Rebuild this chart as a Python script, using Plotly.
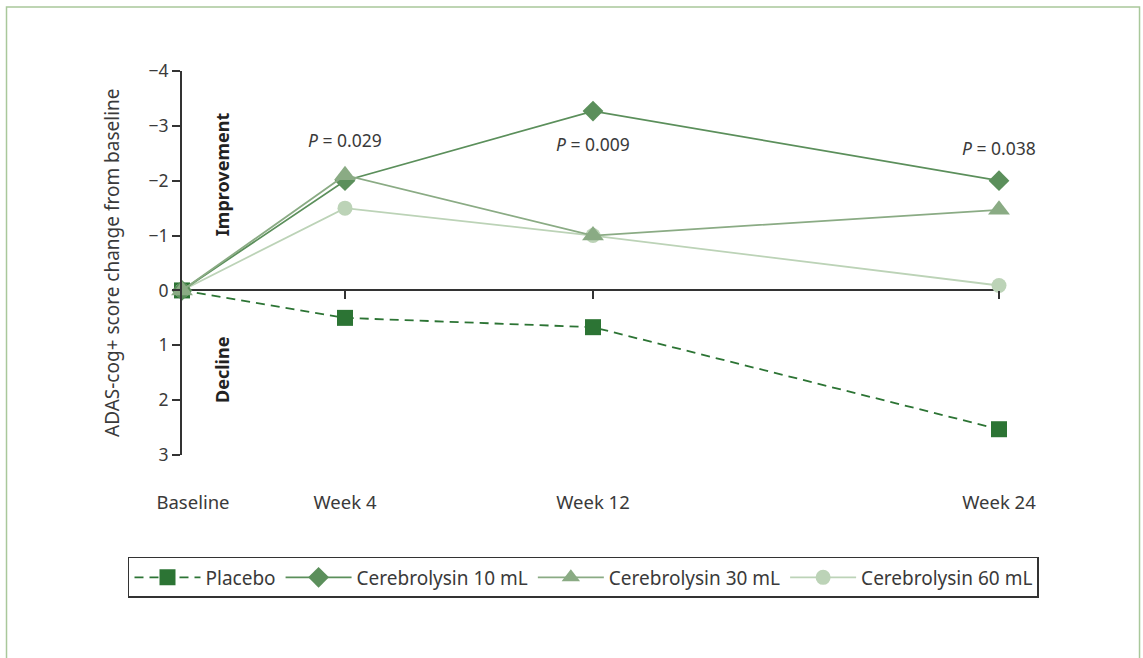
import plotly.graph_objects as go

# ---- data ----
timepoints = ["Baseline", "Week 4", "Week 12", "Week 24"]
placebo = [0.0, 0.5, 0.67, 2.53]
cereb_10 = [0.0, -2.0, -3.27, -2.0]
cereb_30 = [0.0, -2.1, -1.0, -1.47]
cereb_60 = [0.0, -1.5, -1.0, -0.09]
p_labels = ["P = 0.029", "P = 0.009", "P = 0.038"]
p_y = [-2.75, -2.67, -2.6]
y_ticks = [-4, -3, -2, -1, 0, 1, 2, 3]

# category spacing along x (layout, not data)
x_slot = [0, 163, 411, 817]
label_slot = [11, 163, 411, 817]

FONT = "Noto Sans"
TXT = "#3a3a3a"
AX = "#333333"

c_pl = "#2c7434"
c_10 = "#5b8f5b"
c_30 = "#8aab84"
c_60 = "#bcd3b7"

fig = go.Figure()

fig.add_trace(go.Scatter(
    x=x_slot, y=placebo, name="Placebo", mode="lines+markers",
    line=dict(color=c_pl, width=1.8, dash="9px,6px"),
    marker=dict(symbol="square", size=16, color=c_pl),
    cliponaxis=False, legendrank=1))
fig.add_trace(go.Scatter(
    x=x_slot, y=cereb_60, name="Cerebrolysin 60 mL", mode="lines+markers",
    line=dict(color=c_60, width=1.8),
    marker=dict(symbol="circle", size=15, color=c_60),
    cliponaxis=False, legendrank=4))
fig.add_trace(go.Scatter(
    x=x_slot, y=cereb_10, name="Cerebrolysin 10 mL", mode="lines+markers",
    line=dict(color=c_10, width=1.8),
    marker=dict(symbol="diamond", size=16, color=c_10),
    cliponaxis=False, legendrank=2))
fig.add_trace(go.Scatter(
    x=x_slot, y=cereb_30, name="Cerebrolysin 30 mL", mode="lines+markers",
    line=dict(color=c_30, width=1.8),
    marker=dict(symbol="triangle-up", size=19, color=c_30),
    cliponaxis=False, legendrank=3))

annotations = []
for i, (lab, yy) in enumerate(zip(p_labels, p_y)):
    annotations.append(dict(
        x=x_slot[i + 1], y=yy, xref="x", yref="y",
        text="<i>P</i>" + lab[1:], showarrow=False,
        font=dict(family=FONT, size=17.5, color=TXT)))

annotations += [
    dict(x=40, y=-2.12, xref="x", yref="y", text="<b>Improvement</b>",
         textangle=-90, showarrow=False,
         font=dict(family=FONT, size=18, color="#222")),
    dict(x=40, y=1.45, xref="x", yref="y", text="<b>Decline</b>",
         textangle=-90, showarrow=False,
         font=dict(family=FONT, size=18, color="#222")),
    dict(x=-0.0857, y=0.5026, xref="paper", yref="paper",
         xanchor="center", yanchor="middle",
         text="ADAS-cog+ score change from baseline",
         textangle=-90, showarrow=False,
         font=dict(family=FONT, size=19, color=TXT)),
]

fig.update_layout(
    width=1143, height=658,
    margin=dict(l=182, r=144, t=71, b=203),
    paper_bgcolor="white", plot_bgcolor="white",
    font=dict(family=FONT, size=17, color=TXT),
    showlegend=True,
    legend=dict(orientation="h", xref="paper", yref="paper",
                x=-0.0661, xanchor="left", y=-0.2656, yanchor="top",
                bordercolor=AX, borderwidth=1.5,
                font=dict(family=FONT, size=19, color=TXT),
                itemwidth=66, traceorder="normal"),
    xaxis=dict(range=[0, 817], showgrid=False, zeroline=False,
               showline=False, ticks="",
               tickvals=label_slot, ticktext=timepoints,
               ticklabelstandoff=34,
               tickfont=dict(family=FONT, size=18.5, color=TXT)),
    xaxis2=dict(range=[0, 817], overlaying="x", anchor="free",
                position=3 / 7, side="bottom", showgrid=False,
                zeroline=False, showline=False, ticks="outside",
                ticklen=8, tickwidth=1.5, tickcolor=AX,
                tickvals=x_slot[1:], showticklabels=False),
    yaxis=dict(range=[3, -4], showgrid=False,
               zeroline=True, zerolinecolor=AX, zerolinewidth=1.8,
               showline=True, linecolor=AX, linewidth=1.8,
               ticks="outside", ticklen=8, tickwidth=1.5, tickcolor=AX,
               tickvals=y_ticks,
               ticktext=[str(v).replace("-", "\u2212") for v in y_ticks],
               tickfont=dict(family=FONT, size=17.5, color=TXT)),
    annotations=annotations,
    shapes=[dict(type="rect", xref="paper", yref="paper",
                 x0=-0.2148, x1=1.172, y0=-0.6, y1=1.1667,
                 line=dict(color="#a9c89b", width=1.5),
                 fillcolor="rgba(0,0,0,0)", layer="below")],
)

# empty trace on xaxis2 so the tick axis renders
fig.add_trace(go.Scatter(x=[None], y=[None], xaxis="x2", showlegend=False,
                         hoverinfo="skip"))

fig.write_html("out.html", config={"displayModeBar": False},
               post_script="document.body.style.margin='0';")
